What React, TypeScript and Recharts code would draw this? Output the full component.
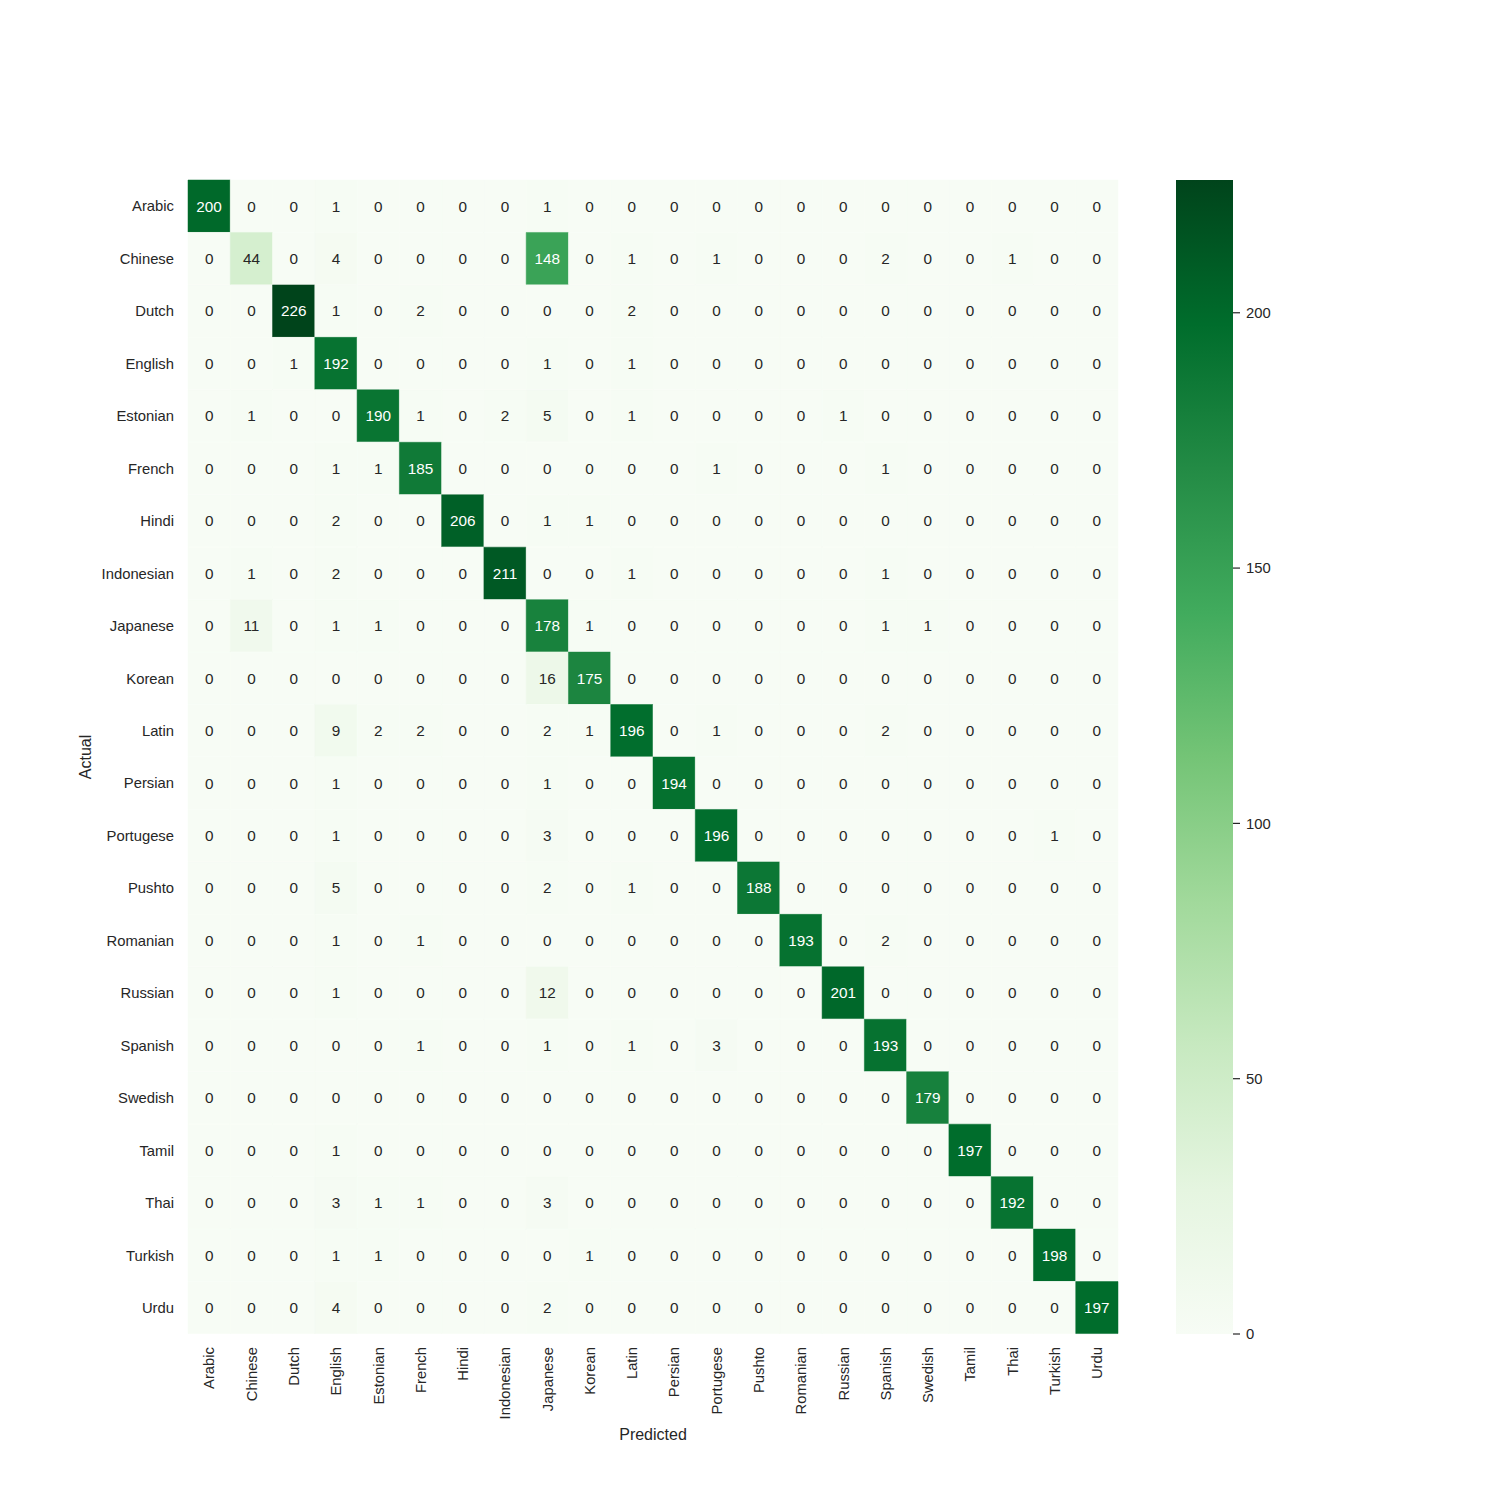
import React from 'react';
import { BarChart, Bar, XAxis, YAxis, Cell, LabelList, Label } from 'recharts';

const languages = [
  'Arabic', 'Chinese', 'Dutch', 'English', 'Estonian', 'French', 'Hindi', 'Indonesian',
  'Japanese', 'Korean', 'Latin', 'Persian', 'Portugese', 'Pushto', 'Romanian', 'Russian',
  'Spanish', 'Swedish', 'Tamil', 'Thai', 'Turkish', 'Urdu',
];

const rowArabic = [200, 0, 0, 1, 0, 0, 0, 0, 1, 0, 0, 0, 0, 0, 0, 0, 0, 0, 0, 0, 0, 0];
const rowChinese = [0, 44, 0, 4, 0, 0, 0, 0, 148, 0, 1, 0, 1, 0, 0, 0, 2, 0, 0, 1, 0, 0];
const rowDutch = [0, 0, 226, 1, 0, 2, 0, 0, 0, 0, 2, 0, 0, 0, 0, 0, 0, 0, 0, 0, 0, 0];
const rowEnglish = [0, 0, 1, 192, 0, 0, 0, 0, 1, 0, 1, 0, 0, 0, 0, 0, 0, 0, 0, 0, 0, 0];
const rowEstonian = [0, 1, 0, 0, 190, 1, 0, 2, 5, 0, 1, 0, 0, 0, 0, 1, 0, 0, 0, 0, 0, 0];
const rowFrench = [0, 0, 0, 1, 1, 185, 0, 0, 0, 0, 0, 0, 1, 0, 0, 0, 1, 0, 0, 0, 0, 0];
const rowHindi = [0, 0, 0, 2, 0, 0, 206, 0, 1, 1, 0, 0, 0, 0, 0, 0, 0, 0, 0, 0, 0, 0];
const rowIndonesian = [0, 1, 0, 2, 0, 0, 0, 211, 0, 0, 1, 0, 0, 0, 0, 0, 1, 0, 0, 0, 0, 0];
const rowJapanese = [0, 11, 0, 1, 1, 0, 0, 0, 178, 1, 0, 0, 0, 0, 0, 0, 1, 1, 0, 0, 0, 0];
const rowKorean = [0, 0, 0, 0, 0, 0, 0, 0, 16, 175, 0, 0, 0, 0, 0, 0, 0, 0, 0, 0, 0, 0];
const rowLatin = [0, 0, 0, 9, 2, 2, 0, 0, 2, 1, 196, 0, 1, 0, 0, 0, 2, 0, 0, 0, 0, 0];
const rowPersian = [0, 0, 0, 1, 0, 0, 0, 0, 1, 0, 0, 194, 0, 0, 0, 0, 0, 0, 0, 0, 0, 0];
const rowPortugese = [0, 0, 0, 1, 0, 0, 0, 0, 3, 0, 0, 0, 196, 0, 0, 0, 0, 0, 0, 0, 1, 0];
const rowPushto = [0, 0, 0, 5, 0, 0, 0, 0, 2, 0, 1, 0, 0, 188, 0, 0, 0, 0, 0, 0, 0, 0];
const rowRomanian = [0, 0, 0, 1, 0, 1, 0, 0, 0, 0, 0, 0, 0, 0, 193, 0, 2, 0, 0, 0, 0, 0];
const rowRussian = [0, 0, 0, 1, 0, 0, 0, 0, 12, 0, 0, 0, 0, 0, 0, 201, 0, 0, 0, 0, 0, 0];
const rowSpanish = [0, 0, 0, 0, 0, 1, 0, 0, 1, 0, 1, 0, 3, 0, 0, 0, 193, 0, 0, 0, 0, 0];
const rowSwedish = [0, 0, 0, 0, 0, 0, 0, 0, 0, 0, 0, 0, 0, 0, 0, 0, 0, 179, 0, 0, 0, 0];
const rowTamil = [0, 0, 0, 1, 0, 0, 0, 0, 0, 0, 0, 0, 0, 0, 0, 0, 0, 0, 197, 0, 0, 0];
const rowThai = [0, 0, 0, 3, 1, 1, 0, 0, 3, 0, 0, 0, 0, 0, 0, 0, 0, 0, 0, 192, 0, 0];
const rowTurkish = [0, 0, 0, 1, 1, 0, 0, 0, 0, 1, 0, 0, 0, 0, 0, 0, 0, 0, 0, 0, 198, 0];
const rowUrdu = [0, 0, 0, 4, 0, 0, 0, 0, 2, 0, 0, 0, 0, 0, 0, 0, 0, 0, 0, 0, 0, 197];

const matrix = [
  rowArabic, rowChinese, rowDutch, rowEnglish, rowEstonian, rowFrench, rowHindi, rowIndonesian,
  rowJapanese, rowKorean, rowLatin, rowPersian, rowPortugese, rowPushto, rowRomanian, rowRussian,
  rowSpanish, rowSwedish, rowTamil, rowThai, rowTurkish, rowUrdu,
];

const colorbarTicks = [0, 50, 100, 150, 200];
const VMIN = 0;
const VMAX = 226;

const GREENS = ['#f7fcf5', '#e5f5e0', '#c7e9c0', '#a1d99b', '#74c476', '#41ab5d', '#238b45', '#006d2c', '#00441b'];

const FONT = '"Liberation Sans", Arial, Helvetica, sans-serif';
const TEXT_DARK = '#262626';

function hexToRgb(h: string): number[] {
  return [parseInt(h.slice(1, 3), 16), parseInt(h.slice(3, 5), 16), parseInt(h.slice(5, 7), 16)];
}

function greensRgb(v: number): number[] {
  let t = (v - VMIN) / (VMAX - VMIN);
  t = Math.max(0, Math.min(1, t));
  const idx = Math.min(255, Math.floor(t * 256));
  const u = idx / 255;
  const pos = u * (GREENS.length - 1);
  const i = Math.min(GREENS.length - 2, Math.floor(pos));
  const f = pos - i;
  const a = hexToRgb(GREENS[i]);
  const b = hexToRgb(GREENS[i + 1]);
  return [0, 1, 2].map((k) => a[k] + (b[k] - a[k]) * f);
}

function greens(v: number): string {
  const c = greensRgb(v).map((x) => Math.round(x));
  return `rgb(${c[0]},${c[1]},${c[2]})`;
}

function textColor(v: number): string {
  const c = greensRgb(v).map((x) => x / 255).map((x) => (x <= 0.03928 ? x / 12.92 : Math.pow((x + 0.055) / 1.055, 2.4)));
  const lum = 0.2126 * c[0] + 0.7152 * c[1] + 0.0722 * c[2];
  return lum > 0.408 ? TEXT_DARK : '#ffffff';
}

const rows = languages.map((name, i) => {
  const r: Record<string, any> = { name };
  languages.forEach((_, j) => {
    r[`p${j}`] = 1;
    r[`v${j}`] = matrix[i][j];
  });
  return r;
});

const xTicks = languages.map((_, i) => i + 0.5);

const XTick = (props: any) => {
  const { x, y, payload } = props;
  const idx = Math.floor(payload.value);
  return (
    <text
      x={x}
      y={y}
      transform={`rotate(-90 ${x} ${y})`}
      textAnchor="end"
      dy="0.36em"
      fill={TEXT_DARK}
      fontSize={14.8}
      fontFamily={FONT}
    >
      {languages[idx]}
    </text>
  );
};

const AnnotLabel = (props: any) => {
  const { x, y, width, height, value } = props;
  const v = Number(value);
  return (
    <text
      x={Number(x) + Number(width) / 2}
      y={Number(y) + Number(height) / 2}
      dy="0.36em"
      textAnchor="middle"
      fill={textColor(v)}
      fontSize={15.3}
      fontFamily={FONT}
    >
      {String(v)}
    </text>
  );
};

export default function App() {
  return (
    <div style={{ position: 'absolute', left: 0, top: 0, width: 1500, height: 1500, background: '#ffffff' }}>
      <svg width={0} height={0} style={{ position: 'absolute' }}>
        <defs>
          <linearGradient id="cbarGrad" x1="0" y1="1" x2="0" y2="0">
            {GREENS.map((c, i) => (
              <stop key={i} offset={`${(i / (GREENS.length - 1)) * 100}%`} stopColor={c} />
            ))}
          </linearGradient>
        </defs>
      </svg>
      <div style={{ position: 'absolute', left: 0, top: 0 }}>
        <BarChart
          width={1500}
          height={1500}
          data={rows}
          layout="vertical"
          margin={{ top: 180, right: 382, bottom: 46, left: 58 }}
          barCategoryGap={0}
          barGap={0}
        >
          <XAxis
            type="number"
            domain={[0, languages.length]}
            ticks={xTicks}
            interval={0}
            axisLine={false}
            tickLine={false}
            tickSize={0}
            tickMargin={13}
            height={120}
            tick={<XTick />}
          >
            <Label
              content={(p: any) => {
                const vb = p.viewBox || {};
                return (
                  <text
                    x={vb.x + vb.width / 2}
                    y={vb.y + 106}
                    textAnchor="middle"
                    fill={TEXT_DARK}
                    fontSize={16}
                    fontFamily={FONT}
                  >
                    Predicted
                  </text>
                );
              }}
            />
          </XAxis>
          <YAxis
            type="category"
            dataKey="name"
            width={130}
            interval={0}
            axisLine={false}
            tickLine={false}
            tickSize={0}
            tickMargin={14}
            tick={{ fill: TEXT_DARK, fontSize: 14.8, fontFamily: FONT }}
          >
            <Label
              content={(p: any) => {
                const vb = p.viewBox || {};
                const cx = vb.x + 27;
                const cy = vb.y + vb.height / 2;
                return (
                  <text
                    x={cx}
                    y={cy}
                    transform={`rotate(-90 ${cx} ${cy})`}
                    textAnchor="middle"
                    dy="0.36em"
                    fill={TEXT_DARK}
                    fontSize={16}
                    fontFamily={FONT}
                  >
                    Actual
                  </text>
                );
              }}
            />
          </YAxis>
          {languages.map((_, j) => (
            <Bar key={`bar${j}`} dataKey={`p${j}`} stackId="m" isAnimationActive={false}>
              {rows.map((r, i) => {
                const col = greens(r[`v${j}`]);
                return <Cell key={`c${i}`} fill={col} stroke={col} strokeWidth={0.5} />;
              })}
              <LabelList dataKey={`v${j}`} content={AnnotLabel} />
            </Bar>
          ))}
        </BarChart>
      </div>
      <div style={{ position: 'absolute', left: 1100, top: 0 }}>
        <BarChart
          width={400}
          height={1500}
          data={[{ name: 'cbar', v: VMAX }]}
          margin={{ top: 180, right: 207, bottom: 166, left: 76 }}
          barCategoryGap={0}
        >
          <XAxis dataKey="name" hide />
          <YAxis
            orientation="right"
            type="number"
            domain={[VMIN, VMAX]}
            ticks={colorbarTicks}
            interval={0}
            width={60}
            axisLine={false}
            tickSize={7}
            tickMargin={6}
            tickLine={{ stroke: TEXT_DARK, strokeWidth: 1.2 }}
            tick={{ fill: TEXT_DARK, fontSize: 14.8, fontFamily: FONT }}
          />
          <Bar dataKey="v" fill="url(#cbarGrad)" isAnimationActive={false} />
        </BarChart>
      </div>
    </div>
  );
}
